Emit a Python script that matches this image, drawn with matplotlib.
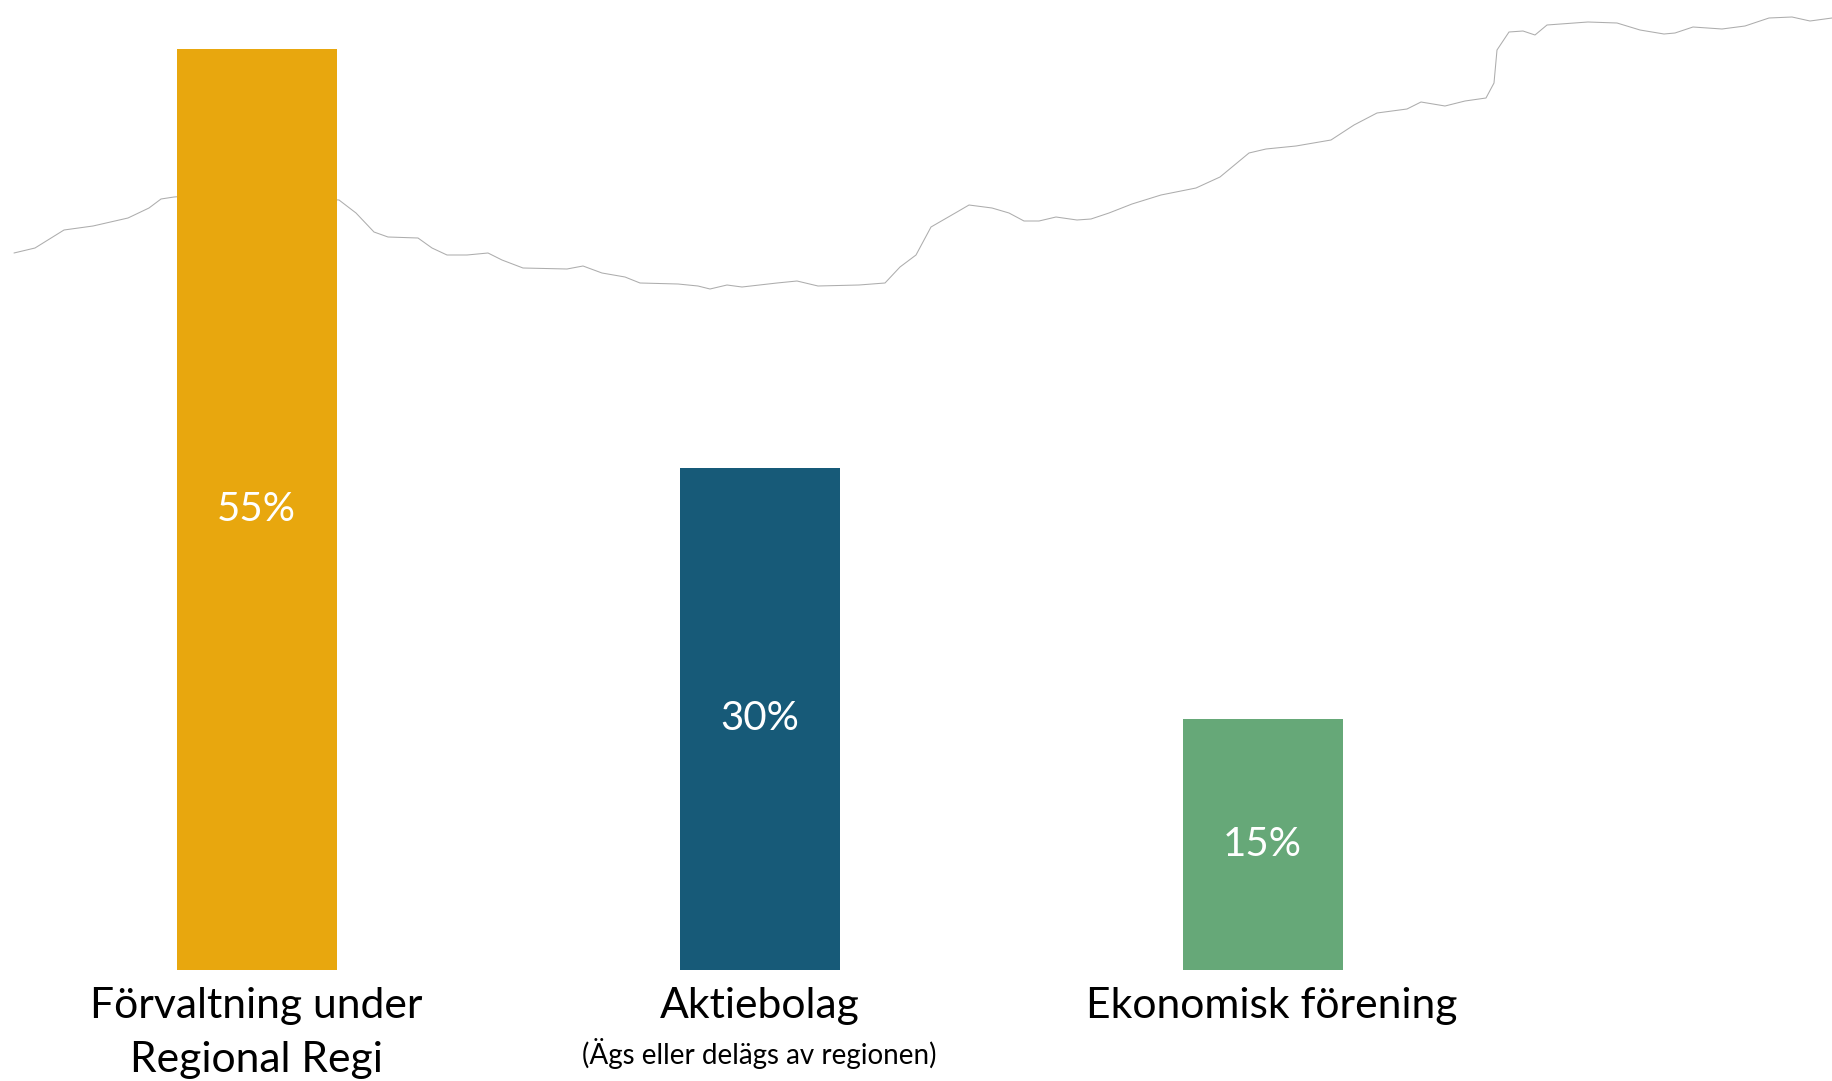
import matplotlib
matplotlib.use("Agg")
import matplotlib.pyplot as plt
from matplotlib.transforms import blended_transform_factory, offset_copy

plt.rcParams['font.family'] = ['Lato', 'DejaVu Sans']

# ---- data ----
categories = ["Förvaltning under\nRegional Regi", "Aktiebolag", "Ekonomisk förening"]
subtitles = ["", "(Ägs eller delägs av regionen)", ""]
values = [55, 30, 15]
value_labels = ["55%", "30%", "15%"]
colors = ["#E8A70E", "#175A78", "#66A878"]

# decorative mountain ridge line (image-pixel units)
ridge_x = [14, 35, 64, 93, 128, 149, 161, 174, 200, 250, 300, 339, 356, 374, 388, 418,
           432, 447, 467, 488, 502, 523, 567, 583, 602, 625, 640, 678, 698, 710, 727,
           742, 777, 797, 818, 859, 885, 900, 916, 931, 957, 969, 992, 1009, 1024,
           1039, 1056, 1077, 1091, 1109, 1132, 1161, 1196, 1220, 1249, 1266, 1296,
           1331, 1354, 1377, 1407, 1421, 1445, 1465, 1486, 1494, 1497, 1509, 1523,
           1535, 1547, 1588, 1617, 1640, 1664, 1675, 1693, 1722, 1745, 1769, 1792,
           1810, 1832]
ridge_y = [253, 248, 230, 226, 218, 208, 199, 197, 195, 196, 198, 200, 213, 232, 237, 238,
           248, 255, 255, 253, 260, 268, 269, 266, 273, 277, 283, 284, 286, 289, 285,
           287, 283, 281, 286, 285, 283, 267, 255, 227, 212, 205, 208, 213, 221,
           221, 217, 220, 219, 213, 204, 195, 188, 177, 153, 149, 146,
           140, 125, 113, 109, 102, 106, 101, 98, 83, 50, 32, 31,
           35, 25, 22, 23, 30, 34, 33, 27, 29, 26, 18, 17,
           21, 18]

W, H = 1832, 1081
fig = plt.figure(figsize=(W / 100, H / 100), dpi=100)
fig.patch.set_facecolor("white")

# background ridge
ax_bg = fig.add_axes([0, 0, 1, 1])
ax_bg.set_xlim(0, W)
ax_bg.set_ylim(H, 0)
ax_bg.axis("off")
ax_bg.plot(ridge_x, ridge_y, color="#8a8a8a", lw=0.75, alpha=0.7, solid_capstyle="round")

# bars
ax = fig.add_axes([0, (H - 970) / H, 1, 921 / H])
ax.patch.set_alpha(0)
ax.set_xlim(-0.51, 3.132)
ax.set_ylim(0, 55)
ax.axis("off")
x = list(range(len(values)))
ax.bar(x, values, width=0.318, color=colors, zorder=3)

for xi, v, lab in zip(x, values, value_labels):
    ax.text(xi, v / 2, lab, ha="center", va="center", color="white",
            fontsize=29, zorder=4)

label_dx_px = [0, 0, 9]
tr = blended_transform_factory(ax.transData, fig.transFigure)
for xi, cat, sub, dx in zip(x, categories, subtitles, label_dx_px):
    t = offset_copy(tr, fig=fig, x=dx * 72 / 100, y=0, units="points")
    lines = cat.split("\n")
    ax.text(xi, (H - 1018) / H, lines[0], transform=t, ha="center", va="baseline",
            fontsize=30.7, color="black")
    if len(lines) > 1:
        ax.text(xi, (H - 1072) / H, lines[1], transform=t, ha="center", va="baseline",
                fontsize=30.7, color="black")
    if sub:
        ax.text(xi, (H - 1064) / H, sub, transform=t, ha="center", va="baseline",
                fontsize=20, color="black")

fig.savefig("out.png", dpi=100, facecolor="white")
